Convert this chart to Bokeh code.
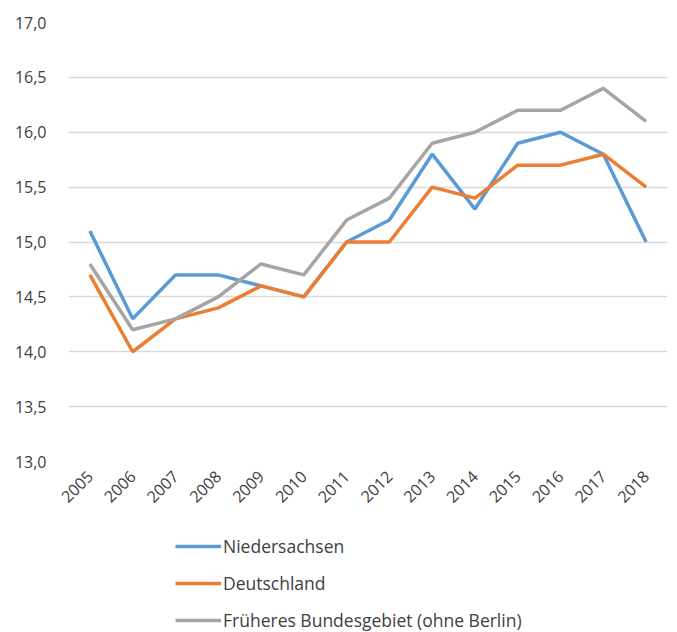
import math
from bokeh.plotting import figure
from bokeh.layouts import column
from bokeh.models import FixedTicker, Legend, LegendItem, Range1d
from bokeh.embed import file_html
from bokeh.resources import INLINE

years = ["2005", "2006", "2007", "2008", "2009", "2010", "2011", "2012",
         "2013", "2014", "2015", "2016", "2017", "2018"]
niedersachsen = [15.1, 14.3, 14.7, 14.7, 14.6, 14.5, 15.0, 15.2, 15.8, 15.3, 15.9, 16.0, 15.8, 15.0]
deutschland = [14.7, 14.0, 14.3, 14.4, 14.6, 14.5, 15.0, 15.0, 15.5, 15.4, 15.7, 15.7, 15.8, 15.5]
frueheres = [14.8, 14.2, 14.3, 14.5, 14.8, 14.7, 15.2, 15.4, 15.9, 16.0, 16.2, 16.2, 16.4, 16.1]
series_names = ["Niedersachsen", "Deutschland", "Früheres Bundesgebiet (ohne Berlin)"]
y_ticks = [13.0, 13.5, 14.0, 14.5, 15.0, 15.5, 16.0, 16.5, 17.0]
y_tick_labels = ["13,0", "13,5", "14,0", "14,5", "15,0", "15,5", "16,0", "16,5", "17,0"]

FONT = "Open Sans"
TXT = "#404040"
COLORS = ["#5B9BD5", "#ED7D31", "#A5A5A5"]
series = [niedersachsen, deutschland, frueheres]

p = figure(x_range=years, y_range=Range1d(13.0, 17.0), width=677, height=535,
           output_backend="svg", toolbar_location=None,
           min_border_left=68, min_border_top=22, min_border_right=10, min_border_bottom=74)
p.outline_line_color = None
p.xgrid.grid_line_color = None
p.ygrid.grid_line_color = "#D9D9D9"
p.ygrid.grid_line_width = 1.5

p.yaxis.ticker = FixedTicker(ticks=y_ticks)
p.yaxis.major_label_overrides = {t: l for t, l in zip(y_ticks, y_tick_labels)}
for ax in (p.xaxis, p.yaxis):
    ax.axis_line_color = None
    ax.major_tick_line_color = None
    ax.minor_tick_line_color = None
    ax.major_label_text_font = FONT
    ax.major_label_text_font_size = "16px"
    ax.major_label_text_color = TXT
p.yaxis.major_label_standoff = 16
p.xaxis.major_label_orientation = math.pi / 4
p.xaxis.major_label_standoff = 6
p.x_range.range_padding = 0

for vals, col in zip(series, COLORS):
    p.line(years, vals, line_color=col, line_width=3.5)

# legend panel
lg = figure(width=677, height=97, x_range=Range1d(0, 1), y_range=Range1d(0, 1),
            output_backend="svg", toolbar_location=None, x_axis_type=None, y_axis_type=None,
            min_border_left=0, min_border_right=0, min_border_top=0, min_border_bottom=0)
lg.outline_line_color = None
lg.grid.grid_line_color = None
items = []
idx = list(range(len(years)))
for name, vals, col in zip(series_names, series, COLORS):
    r = lg.line(idx, vals, line_color=col, line_width=3.5)
    items.append(LegendItem(label=name, renderers=[r]))

legend = Legend(items=items, orientation="vertical", location=(107, 0))
legend.label_text_font = FONT
legend.label_text_font_size = "17.5px"
legend.label_text_color = TXT
legend.glyph_width = 46
legend.glyph_height = 18
legend.label_standoff = 2
legend.spacing = 13
legend.padding = 0
legend.margin = 0
legend.border_line_color = None
legend.background_fill_alpha = 0
lg.add_layout(legend, "center")

open("out.html", "w").write(file_html(column(p, lg, spacing=0), INLINE))
